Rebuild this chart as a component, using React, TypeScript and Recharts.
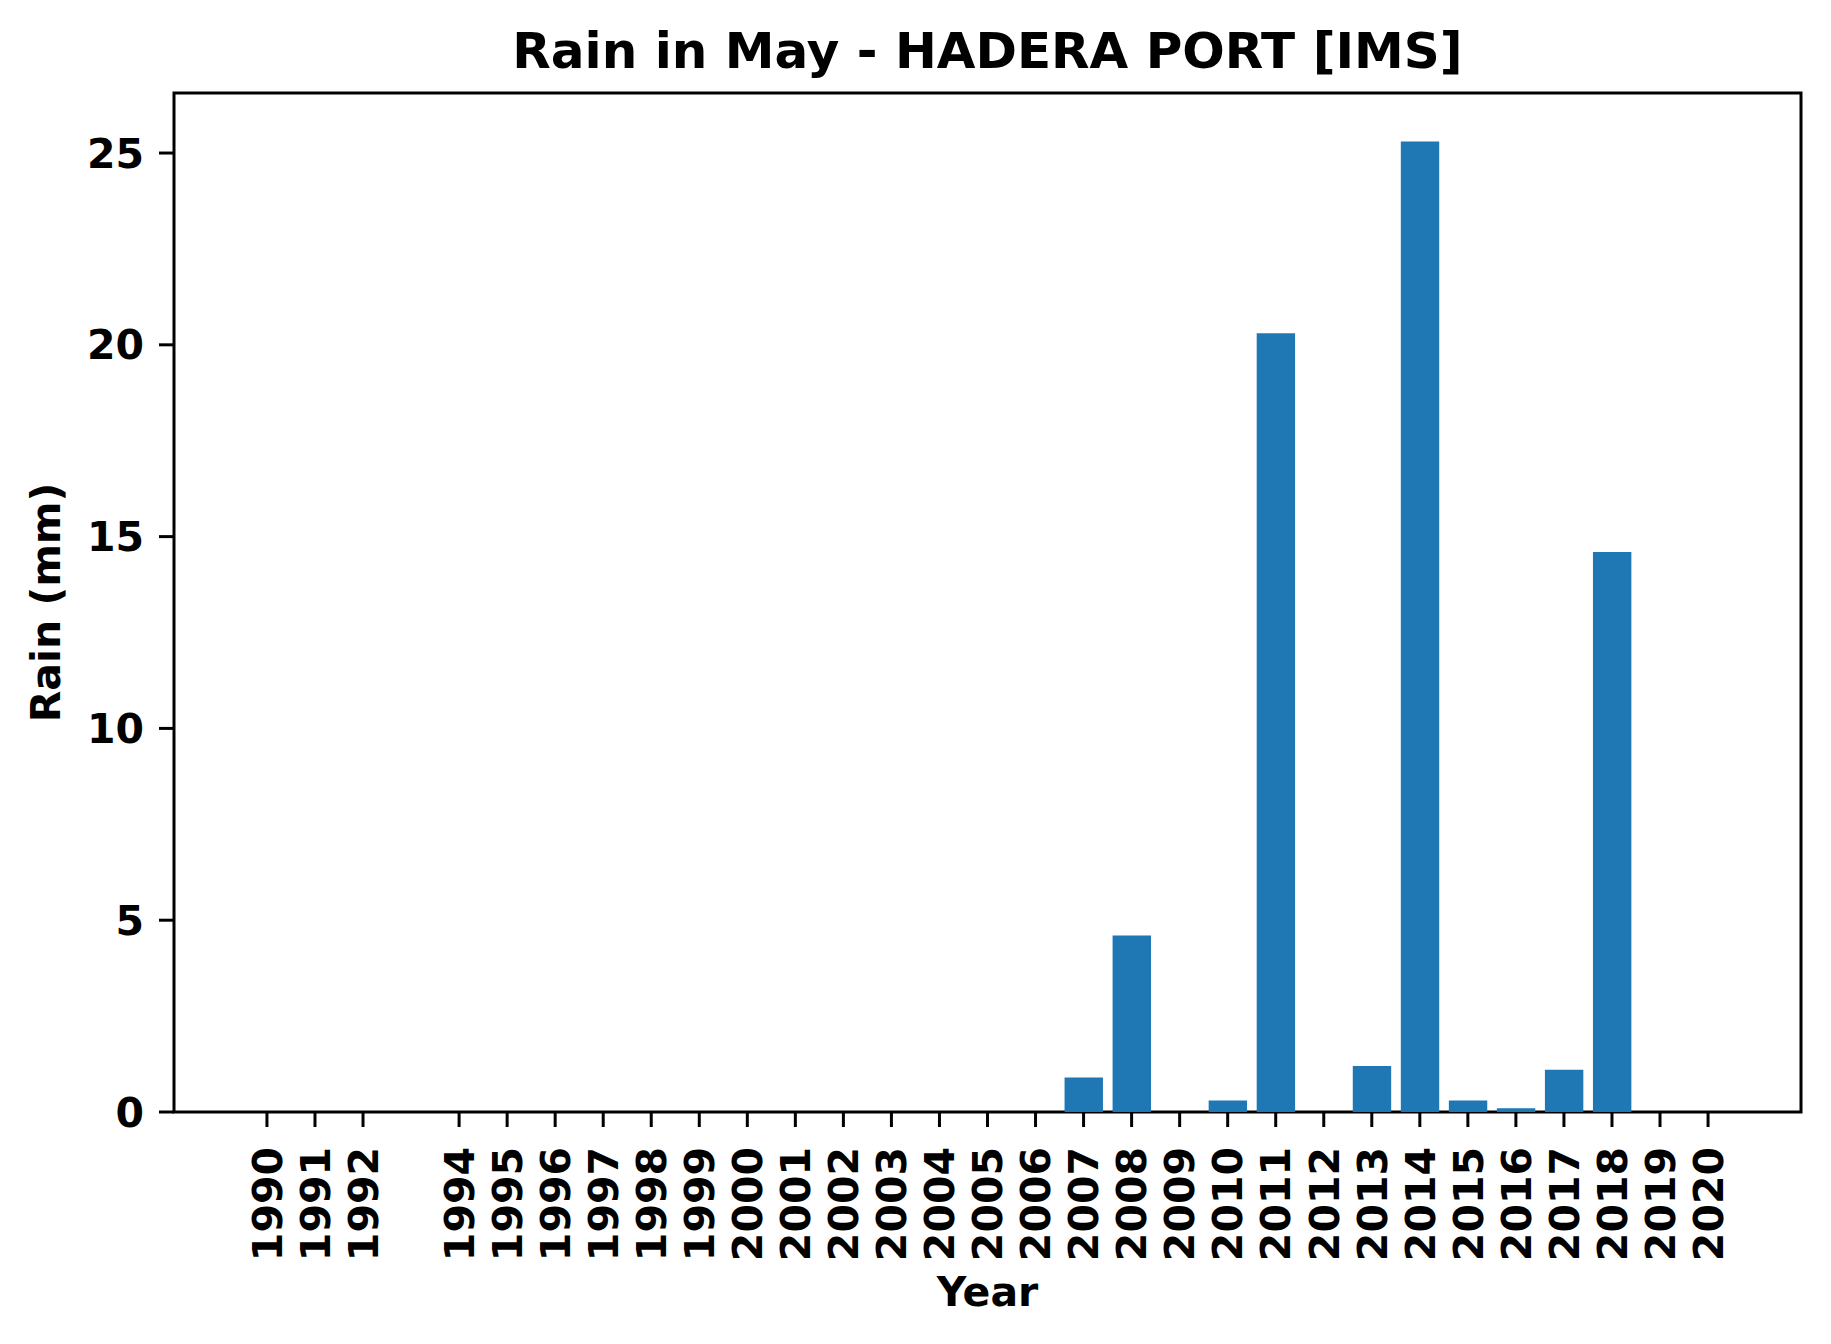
import React from "react";
import { BarChart, Bar, XAxis, YAxis, ReferenceArea } from "recharts";

// May rainfall per year (mm); 1993 is missing from the record
const years = [
  1990, 1991, 1992, 1994, 1995, 1996, 1997, 1998, 1999, 2000, 2001, 2002, 2003, 2004, 2005,
  2006, 2007, 2008, 2009, 2010, 2011, 2012, 2013, 2014, 2015, 2016, 2017, 2018, 2019, 2020,
];
const rain = [
  0, 0, 0, 0, 0, 0, 0, 0, 0, 0, 0, 0, 0, 0, 0,
  0, 0.9, 4.6, 0, 0.3, 20.3, 0, 1.2, 25.3, 0.3, 0.1, 1.1, 14.6, 0, 0,
];
const yTicks = [0, 5, 10, 15, 20, 25];

const data = years.map((year, i) => ({ year, rain: rain[i] }));

const W = 1831;
const H = 1344;
const FONT = "'DejaVu Sans', sans-serif";
const BAR_COLOR = "#1f77b4";

// matplotlib-style 5% margins around bars of width 0.8
const xDomain: [number, number] = [1988.065, 2021.935];
const yMax = 25.3 * 1.05;

const plot = { left: 174, right: 1801, top: 93, bottom: 1112 };

const XTick = (props: any) => {
  const { x, y, payload } = props;
  return (
    <text
      transform={`translate(${x},${y}) rotate(-90)`}
      textAnchor="end"
      dy="0.36em"
      fontFamily={FONT}
      fontWeight="bold"
      fontSize={41}
      fill="#000"
    >
      {payload.value}
    </text>
  );
};

export default function App() {
  const cx = (plot.left + plot.right) / 2;
  const cy = (plot.top + plot.bottom) / 2;

  return (
    <div style={{ position: "absolute", left: 0, top: 0, width: W, height: H, background: "#fff" }}>
      <BarChart
        width={W}
        height={H}
        data={data}
        margin={{ top: plot.top, right: W - plot.right, bottom: 0, left: 0 }}
      >
        <XAxis
          dataKey="year"
          type="number"
          domain={xDomain}
          ticks={years}
          interval={0}
          height={H - plot.bottom}
          axisLine={false}
          tickLine={{ stroke: "#000", strokeWidth: 3 }}
          tickSize={15}
          tickMargin={20}
          tick={<XTick />}
        />
        <YAxis
          type="number"
          domain={[0, yMax]}
          ticks={yTicks}
          width={plot.left}
          axisLine={false}
          tickLine={{ stroke: "#000", strokeWidth: 3 }}
          tickSize={15}
          tickMargin={15}
          tick={{ fontFamily: FONT, fontWeight: "bold", fontSize: 41, fill: "#000" }}
        />
        <Bar dataKey="rain" fill={BAR_COLOR} barSize={38.4} isAnimationActive={false} />
        <ReferenceArea
          x1={xDomain[0]}
          x2={xDomain[1]}
          y1={0}
          y2={yMax}
          fill="none"
          stroke="#000"
          strokeWidth={3}
          ifOverflow="visible"
        />
      </BarChart>
      <svg
        width={W}
        height={H}
        style={{ position: "absolute", left: 0, top: 0, pointerEvents: "none" }}
      >
        <text x={cx} y={68} textAnchor="middle" fontFamily={FONT} fontWeight="bold" fontSize={50} fill="#000">
          Rain in May - HADERA PORT [IMS]
        </text>
        <text x={cx} y={1306} textAnchor="middle" fontFamily={FONT} fontWeight="bold" fontSize={41} fill="#000">
          Year
        </text>
        <text
          transform={`translate(60,${cy}) rotate(-90)`}
          textAnchor="middle"
          fontFamily={FONT}
          fontWeight="bold"
          fontSize={41}
          fill="#000"
        >
          Rain (mm)
        </text>
      </svg>
    </div>
  );
}
